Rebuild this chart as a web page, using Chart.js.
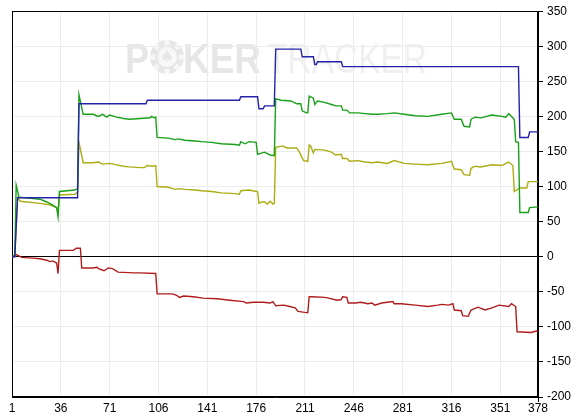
<!DOCTYPE html>
<html>
<head>
<meta charset="utf-8">
<script src="https://cdn.jsdelivr.net/npm/chart.js@4.4.0/dist/chart.umd.min.js"></script>
<style>
html, body { margin: 0; padding: 0; background: #fff; }
</style>
</head>
<body>
<canvas id="graph" width="576" height="418"></canvas>
<script>
// x tick labels (hand numbers)
const xTicks = [1, 36, 71, 106, 141, 176, 211, 246, 281, 316, 351, 378];

// blue line
const blueX = [1, 3, 5, 48, 49, 97, 98, 164, 165, 177, 178, 181, 182, 189, 190, 208, 209, 217, 218, 219, 220, 237, 238, 364, 365, 371, 372, 378];
const blueY = [0, 0, 84, 84, 218, 218, 223, 223, 228, 228, 211, 211, 215, 215, 296, 296, 285, 285, 274, 274, 278, 278, 271, 271, 170, 170, 178, 178];

// green line
const greenX = [1, 3, 4, 6, 21, 26, 30, 33, 34, 35, 46, 48, 49, 52, 59, 63, 66, 69, 71, 76, 81, 85, 93, 100, 101, 103, 104, 105, 113, 118, 120, 125, 132, 137, 144, 151, 161, 164, 165, 168, 171, 176, 177, 182, 186, 189, 190, 194, 201, 205, 208, 209, 212, 213, 214, 217, 218, 220, 225, 230, 233, 237, 238, 241, 243, 249, 254, 259, 263, 270, 275, 282, 290, 299, 309, 316, 318, 323, 325, 329, 330, 333, 337, 345, 352, 355, 357, 359, 361, 362, 364, 365, 371, 372, 378];
const greenY = [0, 2, 102, 85, 82, 78, 74, 70, 57, 93, 95, 97, 231, 203, 203, 200, 203, 199, 202, 199, 197, 196, 197, 198, 200, 198, 199, 170, 169, 167, 168, 166, 165, 164, 163, 161, 160, 159, 164, 161, 164, 163, 146, 149, 145, 144, 225, 223, 222, 218, 218, 208, 205, 205, 229, 226, 217, 222, 220, 217, 215, 215, 209, 209, 205, 205, 204, 203, 203, 204, 205, 203, 201, 200, 203, 205, 196, 196, 186, 185, 196, 199, 198, 202, 200, 199, 204, 200, 196, 164, 163, 63, 63, 70, 71];

// olive line
const yellowX = [1, 3, 5, 7, 21, 28, 33, 34, 35, 46, 48, 49, 52, 59, 63, 66, 71, 76, 81, 85, 93, 96, 98, 102, 104, 105, 113, 118, 120, 125, 132, 137, 144, 151, 161, 164, 165, 171, 176, 177, 178, 180, 182, 184, 186, 188, 189, 190, 195, 198, 205, 207, 210, 213, 214, 215, 217, 218, 225, 230, 233, 237, 238, 241, 243, 249, 254, 259, 263, 270, 275, 282, 290, 299, 309, 316, 318, 323, 325, 329, 330, 333, 337, 345, 352, 357, 360, 361, 365, 370, 371, 378];
const yellowY = [0, 0, 84, 79, 76, 74, 70, 62, 88, 89, 92, 163, 134, 134, 135, 132, 133, 131, 129, 128, 127, 127, 130, 129, 130, 100, 99, 96, 97, 96, 95, 94, 93, 91, 90, 89, 94, 95, 93, 93, 76, 78, 78, 75, 79, 75, 76, 156, 158, 155, 155, 149, 137, 136, 159, 158, 148, 153, 152, 149, 145, 146, 140, 140, 136, 137, 135, 134, 135, 133, 137, 133, 132, 131, 133, 136, 125, 124, 117, 116, 126, 129, 128, 131, 130, 135, 130, 93, 98, 98, 107, 107];

// red line
const redX = [1, 4, 8, 16, 21, 26, 28, 30, 33, 34, 35, 45, 47, 50, 51, 59, 62, 63, 67, 70, 73, 77, 88, 93, 104, 105, 116, 119, 121, 124, 131, 138, 148, 157, 167, 169, 174, 181, 186, 188, 190, 196, 200, 204, 206, 213, 214, 216, 225, 228, 234, 237, 238, 241, 242, 247, 251, 256, 259, 261, 266, 274, 275, 280, 290, 299, 306, 309, 314, 317, 318, 323, 324, 328, 330, 335, 340, 345, 350, 357, 359, 362, 363, 373, 377, 378];
const redY = [0, 3, -1, -2, -3, -5, -7, -6, -9, -24, 9, 9, 12, 12, -16, -16, -15, -17, -20, -16, -17, -22, -23, -23, -24, -53, -53, -55, -58, -56, -57, -59, -60, -62, -64, -66, -65, -65, -66, -64, -70, -69, -71, -73, -78, -80, -57, -57, -58, -59, -62, -61, -57, -58, -66, -66, -65, -67, -66, -69, -66, -64, -67, -67, -69, -71, -69, -68, -69, -67, -76, -77, -84, -85, -76, -72, -76, -73, -69, -71, -67, -71, -107, -108, -106, -107];

function pts(xs, ys) {
    return xs.map((x, i) => ({ x: x, y: ys[i] }));
}

const FONT = '"Liberation Sans", Arial, sans-serif';

// faint logo behind the plot
const watermark = {
    id: 'watermark',
    beforeDraw(chart) {
        const ctx = chart.ctx;
        ctx.save();
        ctx.textBaseline = 'alphabetic';
        ctx.fillStyle = '#e6e6e6';
        ctx.font = 'bold 42px ' + FONT;
        ctx.fillText('P', 125, 73, 24);
        ctx.fillText('KER', 183, 73, 78);
        // chip in place of the O
        const cx = 167, cy = 57, r = 17;
        ctx.beginPath();
        ctx.arc(cx, cy, r, 0, Math.PI * 2);
        ctx.fill();
        ctx.fillStyle = '#f7f7f7';
        for (let i = 0; i < 8; i++) {
            const a = i * Math.PI / 4;
            ctx.beginPath();
            ctx.arc(cx, cy, r, a - 0.16, a + 0.16);
            ctx.arc(cx, cy, r - 5, a + 0.22, a - 0.22, true);
            ctx.closePath();
            ctx.fill();
        }
        ctx.beginPath();
        ctx.arc(cx, cy, 10, 0, Math.PI * 2);
        ctx.fill();
        ctx.fillStyle = '#e6e6e6';
        ctx.font = '16px "DejaVu Sans"';
        ctx.textAlign = 'center';
        ctx.textBaseline = 'middle';
        ctx.fillText('\u2660', cx, cy + 1);
        ctx.textAlign = 'left';
        ctx.textBaseline = 'alphabetic';
        ctx.fillStyle = '#f0f0f0';
        ctx.font = '42px ' + FONT;
        ctx.fillText('TRACKER', 267, 73, 160);
        ctx.restore();
    }
};

// black frame round the plot area
const frame = {
    id: 'frame',
    beforeDatasetsDraw(chart) {
        const a = chart.chartArea;
        const ctx = chart.ctx;
        ctx.save();
        ctx.strokeStyle = '#000';
        ctx.lineWidth = 1;
        ctx.strokeRect(Math.round(a.left) + 0.5, Math.round(a.top) + 0.5,
            Math.round(a.right - a.left) - 1, Math.round(a.bottom - a.top) - 1);
        ctx.beginPath();
        ctx.moveTo(Math.round(a.right) + 0.5, a.bottom);
        ctx.lineTo(Math.round(a.right) + 0.5, a.bottom + 5);
        ctx.stroke();
        ctx.restore();
    }
};

new Chart(document.getElementById('graph'), {
    type: 'line',
    data: {
        datasets: [
            { data: pts(blueX, blueY), borderColor: '#2222aa' },
            { data: pts(greenX, greenY), borderColor: '#18a018' },
            { data: pts(yellowX, yellowY), borderColor: '#acac14' },
            { data: pts(redX, redY), borderColor: '#b01c1c' }
        ]
    },
    options: {
        responsive: false,
        animation: false,
        layout: { padding: { left: 12, top: 7, right: 0, bottom: 0 } },
        elements: {
            line: { borderWidth: 1.4, tension: 0, fill: false },
            point: { radius: 0 }
        },
        plugins: {
            legend: { display: false },
            tooltip: { enabled: false }
        },
        scales: {
            x: {
                type: 'linear',
                min: 1,
                max: 378,
                afterBuildTicks: (s) => { s.ticks = xTicks.map(v => ({ value: v })); },
                afterFit: (s) => { s.height = 21; },
                ticks: {
                    autoSkip: false,
                    maxRotation: 0,
                    color: '#000',
                    padding: 4,
                    font: { family: FONT, size: 12 }
                },
                grid: { color: '#ececec', drawTicks: false },
                border: { display: true, color: '#000' }
            },
            y: {
                position: 'right',
                min: -200,
                max: 350,
                afterFit: (s) => { s.width = 38; },
                ticks: {
                    stepSize: 50,
                    color: '#000',
                    padding: 4,
                    font: { family: FONT, size: 12 }
                },
                grid: {
                    color: (c) => c.tick && c.tick.value === 0 ? '#000' : '#ececec',
                    tickColor: '#000',
                    tickLength: 5
                },
                border: { display: true, color: '#000' }
            }
        }
    },
    plugins: [watermark, frame]
});
</script>
</body>
</html>
